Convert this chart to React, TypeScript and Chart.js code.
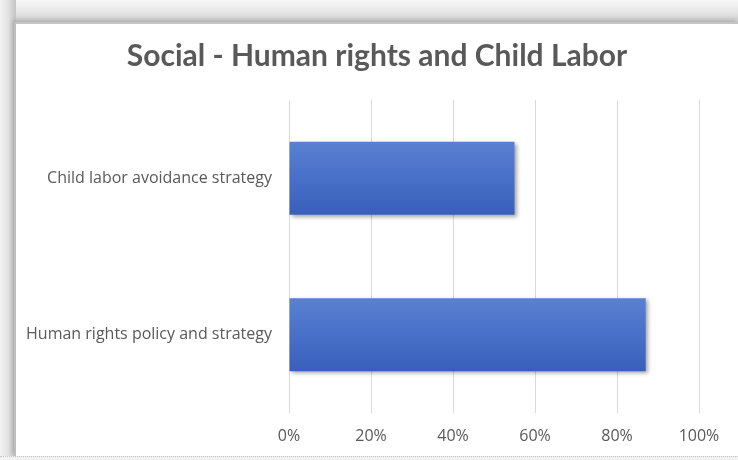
import React, { useEffect, useRef } from "react";
import { Chart, registerables } from "chart.js";

Chart.register(...registerables);

const categories = ["Child labor avoidance strategy", "Human rights policy and strategy"];
const values = [55, 87];
const xTicks = [0, 20, 40, 60, 80, 100];
const titleText = "Social - Human rights and Child Labor";

const shadowPlugin = {
  id: "barShadow",
  afterLayout(chart: any) {
    const t = chart.titleBlock;
    if (t) {
      t.left = 0;
      t.right = chart.width;
      t.width = chart.width;
    }
  },
  beforeDatasetsDraw(chart: any) {
    const ctx = chart.ctx;
    ctx.save();
    ctx.shadowColor = "rgba(0,0,0,0.35)";
    ctx.shadowBlur = 4;
    ctx.shadowOffsetX = 2;
    ctx.shadowOffsetY = 2;
  },
  afterDatasetsDraw(chart: any) {
    chart.ctx.restore();
  },
};

export default function App() {
  const ref = useRef<HTMLCanvasElement | null>(null);
  useEffect(() => {
    if (!ref.current) return;
    const chart = new Chart(ref.current, {
      type: "bar",
      data: {
        labels: categories,
        datasets: [
          {
            data: values,
            categoryPercentage: 1,
            barPercentage: 0.467,
            borderWidth: 0,
            backgroundColor: (c: any) => {
              const ch = c.chart;
              const y = ch.scales && ch.scales.y;
              if (!y || !ch.chartArea) return "#4a72c8";
              const center = y.getPixelForValue(c.dataIndex);
              const band = (ch.chartArea.bottom - ch.chartArea.top) / categories.length;
              const half = (band * 0.467) / 2;
              const g = ch.ctx.createLinearGradient(0, center - half, 0, center + half);
              g.addColorStop(0, "#5a80d2");
              g.addColorStop(0.5, "#4870c8");
              g.addColorStop(1, "#3860bb");
              return g;
            },
          },
        ],
      },
      options: {
        indexAxis: "y",
        responsive: false,
        animation: false,
        layout: { padding: { left: 0, right: 39, top: 0, bottom: 0 } },
        plugins: {
          legend: { display: false },
          tooltip: { enabled: false },
          title: {
            display: true,
            text: titleText,
            color: "#595959",
            font: { family: "Lato", size: 30, weight: "bold" },
            padding: { top: 14, bottom: 26 },
          },
        },
        scales: {
          x: {
            min: 0,
            max: 100,
            afterBuildTicks: (s: any) => {
              s.ticks = xTicks.map((v) => ({ value: v }));
            },
            afterFit: (s: any) => {
              s.height = 43;
            },
            grid: { color: "#d9d9d9", lineWidth: 1, drawTicks: false },
            border: { display: false },
            ticks: {
              padding: 14,
              maxRotation: 0,
              color: "#595959",
              font: { family: "Open Sans", size: 16 },
              callback: (v: any) => v + "%",
            },
          },
          y: {
            grid: { display: false, drawTicks: false },
            border: { display: false },
            afterFit: (s: any) => {
              s.width = 273;
            },
            ticks: {
              padding: 17,
              color: "#595959",
              font: { family: "Open Sans", size: 16 },
            },
          },
        },
      },
      plugins: [shadowPlugin],
    } as any);
    return () => chart.destroy();
  }, []);

  return (
    <div
      style={{
        position: "fixed",
        left: 0,
        top: 0,
        width: 738,
        height: 460,
        overflow: "hidden",
        background: "linear-gradient(180deg, #f7f7f7 0px, #e6e6e6 12px, #cfcfcf 21px)",
      }}
    >
      <div
        style={{
          position: "absolute",
          left: 0,
          top: 0,
          width: 16,
          height: 460,
          background: "linear-gradient(90deg, #f4f4f4 0px, #e2e2e2 8px, #c6c6c6 15px)",
        }}
      />
      <div
        style={{
          position: "absolute",
          left: 0,
          top: 456,
          width: 738,
          height: 4,
          background: "#f2f2f2",
          borderTop: "1px dotted #c8c8c8",
        }}
      />
      <div
        style={{
          position: "absolute",
          left: 14,
          top: 22,
          width: 724,
          height: 434,
          background: "#ffffff",
          borderLeft: "2px solid #bdbdbd",
          borderTop: "2px solid #c4c4c4",
          boxSizing: "border-box",
          boxShadow: "-2px -2px 4px rgba(0,0,0,0.15)",
        }}
      >
        <canvas ref={ref} width={722} height={432} style={{ display: "block", width: 722, height: 432 }} />
      </div>
    </div>
  );
}
